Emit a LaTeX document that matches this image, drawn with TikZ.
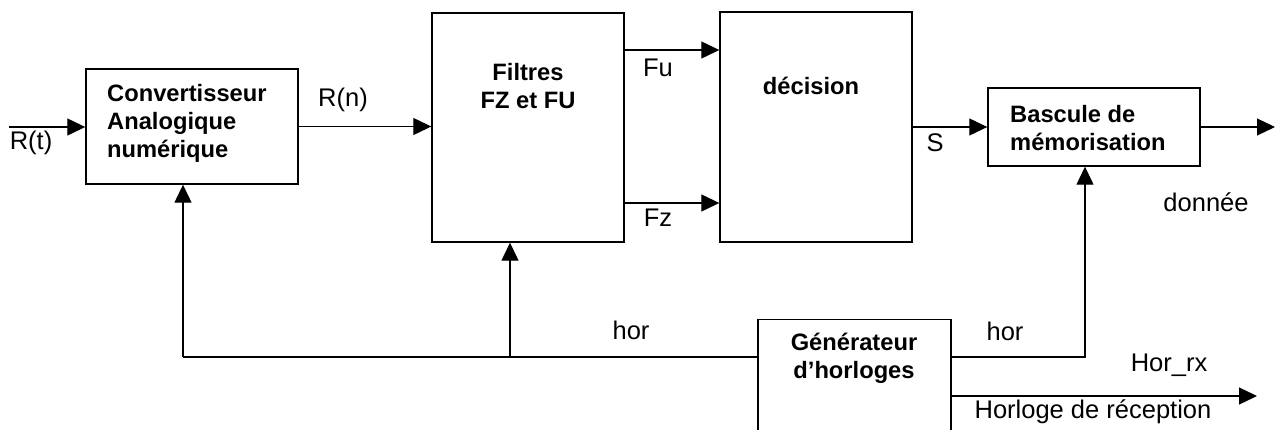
\documentclass[tikz,border=0pt]{standalone}
\usepackage{fontspec}
\setmainfont{Liberation Sans}
\usetikzlibrary{arrows.meta}
\begin{document}
\begin{tikzpicture}[x=1pt,y=-1pt,
  box/.style={draw, line width=1.4pt, inner sep=0pt},
  ln/.style={line width=1.2pt},
  arr/.style={ln, -{Triangle[length=18pt,width=17pt]}},
  txt/.style={inner sep=0pt, font=\fontsize{25.5}{28}\selectfont},
  btxt/.style={inner sep=0pt, font=\fontsize{23.7}{28}\selectfont\bfseries}]
\useasboundingbox (0,0) rectangle (1281,430);
\clip (0,0) rectangle (1281,430);
% boxes
\node[box, minimum width=212pt, minimum height=115pt] (conv) at (192,126.5) {};
\node[box, minimum width=192pt, minimum height=229pt] (filt) at (528,127.5) {};
\node[box, minimum width=192pt, minimum height=230pt] (dec) at (816,127) {};
\node[box, minimum width=212pt, minimum height=78pt] (bas) at (1094,127) {};
\node[box, minimum width=193pt, minimum height=130pt, anchor=north] (gen) at (854.5,319) {};
% box texts
\node[btxt, align=left, anchor=west] (convtxt) at (107,123) {Convertisseur\\Analogique\\numérique};
\node[btxt, align=center] (filttxt) at (528,86) {Filtres\\FZ et FU};
\node[btxt] (dectxt) at (811,86) {décision};
\node[btxt, align=left, anchor=west] (bastxt) at (1010,128) {Bascule de\\mémorisation};
\node[btxt, align=center] (gentxt) at (854,358) {Générateur\\d’horloges};
% coordinates
\coordinate (in) at (9,127);
\coordinate (out) at (1275,127);
\coordinate (fu) at (624,50);
\coordinate (fz) at (624,203);
\coordinate (j1) at (183,357);
\coordinate (j2) at (510,357);
\coordinate (j3) at (1085,357);
\coordinate (hrx) at (1257,396);
% connectors
\draw[arr] (in) -- (in -| conv.west);
\draw[arr] (conv.east) -- (conv.east -| filt.west);
\draw[arr] (fu) -- (fu -| dec.west);
\draw[arr] (fz) -- (fz -| dec.west);
\draw[arr] (dec.east |- bas.west) -- (bas.west);
\draw[arr] (bas.east) -- (out);
\draw[ln] (gen.west |- j1) -- (j1);
\draw[arr] (j1) -- (j1 |- conv.south);
\draw[arr] (j2) -- (j2 |- filt.south);
\draw[arr] (gen.east |- j3) -- (j3) -- (j3 |- bas.south);
\draw[arr] (gen.east |- hrx) -- (hrx);
% labels
\node[txt] (lrt) at (31,143) {R(t)};
\node[txt] (lrn) at (343,100) {R(n)};
\node[txt] (lfu) at (658,68) {Fu};
\node[txt] (lfz) at (658,218) {Fz};
\node[txt] (ls) at (935,143) {S};
\node[txt] (ldon) at (1206,202) {donnée};
\node[txt] (lhor1) at (631,330) {hor};
\node[txt] (lhor2) at (1005,331) {hor};
\node[txt] (lhrx) at (1169,365) {Hor\_rx};
\node[txt] (lhrec) at (1093,412) {Horloge de réception};
\end{tikzpicture}
\end{document}
